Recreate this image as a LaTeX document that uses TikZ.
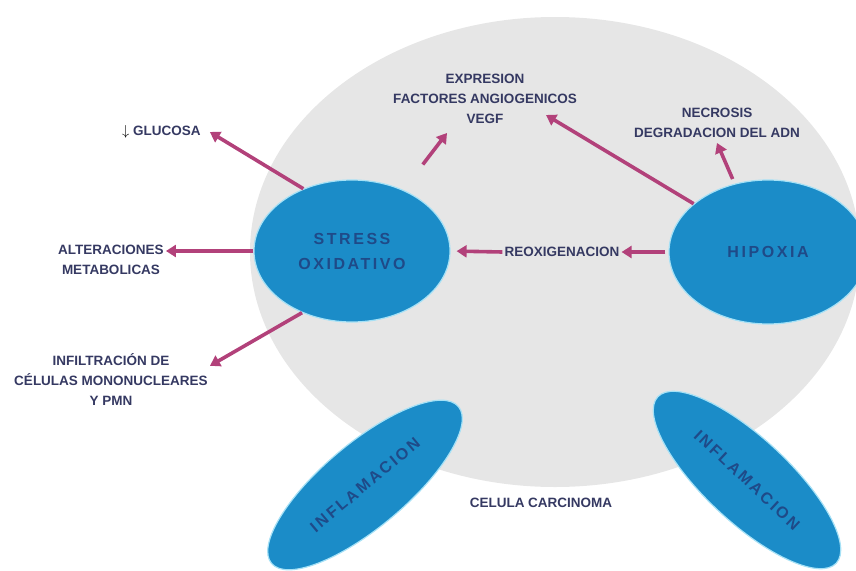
\documentclass[tikz,border=0pt]{standalone}
\usepackage{fontspec}
\setmainfont{Liberation Sans}
\newfontfamily\spacedfont[LetterSpace=16]{Liberation Sans}
\usetikzlibrary{arrows.meta}
\usetikzlibrary{shapes.geometric}

\definecolor{cellgray}{HTML}{E6E6E6}
\definecolor{blobblue}{HTML}{1B8CC8}
\definecolor{blobrim}{HTML}{A6E1F6}
\definecolor{blobtext}{HTML}{1F4A88}
\definecolor{labeltext}{HTML}{353962}
\definecolor{arrowpink}{HTML}{B2417A}

\tikzset{
  blob/.style={ellipse, fill=blobblue, draw=blobrim, line width=1.2pt, inner sep=0pt,
    text=blobtext, font=\spacedfont\bfseries\fontsize{16}{25}\selectfont, align=center},
  lbl/.style={text=labeltext, font=\bfseries\fontsize{13.5}{20}\selectfont, align=center, inner sep=2pt},
  effect/.style={draw=arrowpink, line width=3.6pt, -{Triangle[length=10pt,width=12pt]}},
}

\begin{document}
\begin{tikzpicture}[x=1pt,y=-1pt]
        \useasboundingbox (0,0) rectangle (856,570);
        \fill[cellgray] (555,252) ellipse [x radius=305, y radius=235];

        \node[blob, minimum width=196pt, minimum height=142pt] (stress) at (352,251) {STRESS\\OXIDATIVO};
        \node[blob, minimum width=198pt, minimum height=144pt] (hipoxia) at (768,252) {HIPOXIA};
        \node[blob, minimum width=244pt, minimum height=84pt, rotate=40] (inflL) at (365,485) {INFLAMACION};
        \node[blob, minimum width=244pt, minimum height=84pt, rotate=-43] (inflR) at (747,480) {INFLAMACION};

        \node[lbl, anchor=west] (glucosa) at (120,132) {{\color{black}\Large$\downarrow$} GLUCOSA};
        \node[lbl] (alter) at (111,260) {ALTERACIONES\\METABOLICAS};
        \node[lbl] (infil) at (111,380) {INFILTRACIÓN DE\\CÉLULAS MONONUCLEARES\\Y PMN};
        \node[lbl] (expr) at (485,99) {EXPRESION\\FACTORES ANGIOGENICOS\\VEGF};
        \node[lbl] (necro) at (717,123) {NECROSIS\\DEGRADACION DEL ADN};
        \node[lbl] (reox) at (562,252) {REOXIGENACION};
        \node[lbl] (celula) at (541,503) {CELULA CARCINOMA};

        \draw[effect] (stress.128) -- ([xshift=7pt]glucosa.east);
        \draw[effect] (stress.west) -- (alter.east |- stress.west);
        \draw[effect] (stress.231) -- ([yshift=-14pt]infil.north east);
        \draw[effect, shorten <=32pt] (stress.50) -- ([xshift=-38pt,yshift=-7pt]expr.south);
        \draw[effect] (hipoxia.147) -- ([xshift=-33pt,yshift=-16pt]expr.east);
        \draw[effect, shorten <=5pt] (hipoxia.116) -- ([yshift=-3pt]necro.south);
        \draw[effect, shorten <=3pt] (hipoxia.west) -- (reox.east);
        \draw[effect, shorten >=6pt] (reox.west) -- (stress.east);
\end{tikzpicture}
\end{document}
